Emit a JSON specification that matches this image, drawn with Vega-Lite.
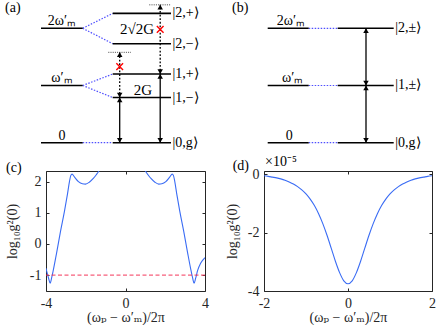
{
  "$schema": "https://vega.github.io/schema/vega-lite/v6.json",
  "padding": {"left": 4, "top": 0, "right": 0, "bottom": 0},
  "background": "white",
  "columns": 2,
  "spacing": {"row": 20, "column": 59},
  "bounds": "flush",
  "align": "each",
  "config": {
    "font": "Liberation Serif, DejaVu Serif, serif",
    "view": {"stroke": null},
    "axis": {"grid": false, "domain": false, "labelFont": "Liberation Serif, DejaVu Serif, serif", "titleFont": "Liberation Serif, DejaVu Serif, serif", "labelFontSize": 14, "titleFontSize": 14, "titleFontWeight": "normal", "labelColor": "#262626", "titleColor": "#262626", "tickColor": "#262626", "tickSize": -3, "labelFlush": false, "labelOverlap": false},
    "axisX": {"labelPadding": 8, "titlePadding": 0},
    "axisY": {"labelPadding": 8, "titlePadding": 5},
    "text": {"font": "Liberation Serif, DejaVu Serif, serif", "fontSize": 13, "color": "#000000"}
  },
  "datasets": {
    "a_levels": [
      {"x1": -0.5, "x2": 3.67, "e": 2}, {"x1": -0.5, "x2": 3.67, "e": 1}, {"x1": -0.5, "x2": 3.67, "e": 0},
      {"x1": 6.67, "x2": 12.5, "e": 2.26}, {"x1": 6.67, "x2": 12.5, "e": 1.73}, {"x1": 6.67, "x2": 12.5, "e": 1.2}, {"x1": 6.67, "x2": 12.5, "e": 0.79}, {"x1": 6.67, "x2": 12.5, "e": 0}
    ],
    "a_links": [
      {"x1": 3.67, "e1": 2, "x2": 6.67, "e2": 2.26}, {"x1": 3.67, "e1": 2, "x2": 6.67, "e2": 1.73},
      {"x1": 3.67, "e1": 1, "x2": 6.67, "e2": 1.2}, {"x1": 3.67, "e1": 1, "x2": 6.67, "e2": 0.79},
      {"x1": 3.67, "e1": 0, "x2": 6.67, "e2": 0}
    ],
    "a_virtual": [{"x1": 10.33, "x2": 12.43, "e": 2.41}, {"x1": 6.23, "x2": 8.5, "e": 1.58}],
    "a_dotted": [{"x": 7.37, "e1": 0.79, "e2": 1.58}, {"x": 11.42, "e1": 1.2, "e2": 2.41}],
    "a_solid": [{"x": 7.37, "e1": 0, "e2": 0.79}, {"x": 11.42, "e1": 0, "e2": 1.2}],
    "a_up": [{"x": 7.37, "e": 1.58}, {"x": 11.42, "e": 2.41}, {"x": 7.37, "e": 0.79}, {"x": 11.42, "e": 1.2}],
    "a_down": [{"x": 7.37, "e": 0.79}, {"x": 11.42, "e": 1.2}, {"x": 7.37, "e": 0}, {"x": 11.42, "e": 0}],
    "a_cross": [{"x": 7.37, "e": 1.33}, {"x": 11.42, "e": 1.98}],
    "a_energy": [{"x": 1.6, "e": 2, "t": "2ω′ₘ"}, {"x": 1.6, "e": 1, "t": "ω′ₘ"}, {"x": 1.6, "e": 0, "t": "0"}],
    "a_mid": [{"x": 9.1, "e": 1.98, "t": "2√2G"}, {"x": 9.7, "e": 0.93, "t": "2G"}],
    "a_states": [
      {"x": 12.65, "e": 2.26, "t": "|2,+⟩"}, {"x": 12.65, "e": 1.73, "t": "|2,−⟩"}, {"x": 12.65, "e": 1.2, "t": "|1,+⟩"},
      {"x": 12.65, "e": 0.79, "t": "|1,−⟩"}, {"x": 12.65, "e": 0, "t": "|0,g⟩"}, {"x": -4.1, "e": 2.36, "t": "(a)"}
    ],
    "b_levels": [
      {"x1": 0.37, "x2": 4.47, "e": 2}, {"x1": 0.37, "x2": 4.47, "e": 1}, {"x1": 0.37, "x2": 4.47, "e": 0},
      {"x1": 7.37, "x2": 12.97, "e": 2}, {"x1": 7.37, "x2": 12.97, "e": 1}, {"x1": 7.37, "x2": 12.97, "e": 0}
    ],
    "b_links": [{"x1": 4.47, "x2": 7.37, "e": 2}, {"x1": 4.47, "x2": 7.37, "e": 1}, {"x1": 4.47, "x2": 7.37, "e": 0}],
    "b_solid": [{"x": 10.2, "e1": 0, "e2": 1}, {"x": 10.2, "e1": 1, "e2": 2}],
    "b_up": [{"x": 10.2, "e": 1}, {"x": 10.2, "e": 2}],
    "b_down": [{"x": 10.2, "e": 0}, {"x": 10.2, "e": 1}],
    "b_energy": [{"x": 2.7, "e": 2, "t": "2ω′ₘ"}, {"x": 2.87, "e": 1, "t": "ω′ₘ"}, {"x": 2.53, "e": 0, "t": "0"}],
    "b_states": [{"x": 13.13, "e": 2, "t": "|2,±⟩"}, {"x": 13.13, "e": 1, "t": "|1,±⟩"}, {"x": 13.13, "e": 0, "t": "|0,g⟩"}, {"x": -3.2, "e": 2.36, "t": "(b)"}],
    "c_curve": [
      {"x": -4.0, "y": -0.78}, {"x": -3.87, "y": -1.1}, {"x": -3.79, "y": -1.26}, {"x": -3.72, "y": -1.1}, {"x": -3.62, "y": -0.8},
      {"x": -3.47, "y": -0.3}, {"x": -3.27, "y": 0.4}, {"x": -3.07, "y": 1.05}, {"x": -2.92, "y": 1.6}, {"x": -2.82, "y": 2.0},
      {"x": -2.75, "y": 2.2}, {"x": -2.69, "y": 2.24}, {"x": -2.57, "y": 2.15}, {"x": -2.37, "y": 2.0}, {"x": -2.17, "y": 1.93},
      {"x": -2.01, "y": 1.92}, {"x": -1.82, "y": 1.98}, {"x": -1.62, "y": 2.1}, {"x": -1.47, "y": 2.22}, {"x": -1.34, "y": 2.34},
      {"x": -1.17, "y": 2.55}, {"x": -0.87, "y": 2.9}, {"x": -0.57, "y": 3.2}, {"x": -0.17, "y": 3.4}, {"x": 0.23, "y": 3.2},
      {"x": 0.53, "y": 2.9}, {"x": 0.83, "y": 2.55}, {"x": 1.0, "y": 2.34}, {"x": 1.13, "y": 2.22}, {"x": 1.28, "y": 2.1},
      {"x": 1.48, "y": 1.98}, {"x": 1.67, "y": 1.92}, {"x": 1.83, "y": 1.93}, {"x": 2.03, "y": 2.0}, {"x": 2.23, "y": 2.15},
      {"x": 2.35, "y": 2.24}, {"x": 2.41, "y": 2.2}, {"x": 2.48, "y": 2.0}, {"x": 2.58, "y": 1.6}, {"x": 2.73, "y": 1.05},
      {"x": 2.93, "y": 0.4}, {"x": 3.13, "y": -0.3}, {"x": 3.28, "y": -0.8}, {"x": 3.38, "y": -1.1}, {"x": 3.45, "y": -1.26},
      {"x": 3.53, "y": -1.1}, {"x": 3.63, "y": -0.85}, {"x": 3.78, "y": -0.62}, {"x": 4.0, "y": -0.44}
    ],
    "d_curve": [
      {"x": -2.0, "y": -0.05}, {"x": -1.9, "y": -0.07}, {"x": -1.8, "y": -0.095}, {"x": -1.7, "y": -0.12}, {"x": -1.6, "y": -0.155},
      {"x": -1.5, "y": -0.2}, {"x": -1.4, "y": -0.26}, {"x": -1.3, "y": -0.33}, {"x": -1.2, "y": -0.42}, {"x": -1.1, "y": -0.53},
      {"x": -1.0, "y": -0.67}, {"x": -0.9, "y": -0.85}, {"x": -0.8, "y": -1.07}, {"x": -0.7, "y": -1.35}, {"x": -0.6, "y": -1.69},
      {"x": -0.5, "y": -2.09}, {"x": -0.4, "y": -2.53}, {"x": -0.3, "y": -2.98}, {"x": -0.2, "y": -3.37}, {"x": -0.1, "y": -3.65},
      {"x": 0.0, "y": -3.75}, {"x": 0.1, "y": -3.65}, {"x": 0.2, "y": -3.37}, {"x": 0.3, "y": -2.98}, {"x": 0.4, "y": -2.53},
      {"x": 0.5, "y": -2.09}, {"x": 0.6, "y": -1.69}, {"x": 0.7, "y": -1.35}, {"x": 0.8, "y": -1.07}, {"x": 0.9, "y": -0.85},
      {"x": 1.0, "y": -0.67}, {"x": 1.1, "y": -0.53}, {"x": 1.2, "y": -0.42}, {"x": 1.3, "y": -0.33}, {"x": 1.4, "y": -0.26},
      {"x": 1.5, "y": -0.2}, {"x": 1.6, "y": -0.155}, {"x": 1.7, "y": -0.12}, {"x": 1.8, "y": -0.095}, {"x": 1.9, "y": -0.07},
      {"x": 2.0, "y": -0.05}
    ]
  },
  "concat": [
    {
      "width": 159, "height": 150,
      "layer": [
        {"data": {"name": "a_links"}, "mark": {"type": "rule", "color": "#4f4fff", "strokeWidth": 1.2, "strokeDash": [1.5, 1.5]},
         "encoding": {"x": {"field": "x1", "type": "quantitative", "scale": {"domain": [0, 15.9], "nice": false, "zero": false}, "axis": null}, "x2": {"field": "x2"},
                      "y": {"field": "e1", "type": "quantitative", "scale": {"domain": [-0.145, 2.477], "nice": false, "zero": false}, "axis": null}, "y2": {"field": "e2"}}},
        {"data": {"name": "a_levels"}, "mark": {"type": "rule", "color": "#000000", "strokeWidth": 1.6},
         "encoding": {"x": {"field": "x1", "type": "quantitative", "scale": {"domain": [0, 15.9], "nice": false, "zero": false}, "axis": null}, "x2": {"field": "x2"},
                      "y": {"field": "e", "type": "quantitative", "scale": {"domain": [-0.145, 2.477], "nice": false, "zero": false}, "axis": null}}},
        {"data": {"name": "a_virtual"}, "mark": {"type": "rule", "color": "#444444", "strokeWidth": 1, "strokeDash": [1, 1.2]},
         "encoding": {"x": {"field": "x1", "type": "quantitative", "scale": {"domain": [0, 15.9], "nice": false, "zero": false}, "axis": null}, "x2": {"field": "x2"},
                      "y": {"field": "e", "type": "quantitative", "scale": {"domain": [-0.145, 2.477], "nice": false, "zero": false}, "axis": null}}},
        {"data": {"name": "a_dotted"}, "mark": {"type": "rule", "color": "#000000", "strokeWidth": 1.3, "strokeDash": [1.8, 1.8]},
         "encoding": {"x": {"field": "x", "type": "quantitative", "scale": {"domain": [0, 15.9], "nice": false, "zero": false}, "axis": null},
                      "y": {"field": "e1", "type": "quantitative", "scale": {"domain": [-0.145, 2.477], "nice": false, "zero": false}, "axis": null}, "y2": {"field": "e2"}}},
        {"data": {"name": "a_solid"}, "mark": {"type": "rule", "color": "#000000", "strokeWidth": 1.3},
         "encoding": {"x": {"field": "x", "type": "quantitative", "scale": {"domain": [0, 15.9], "nice": false, "zero": false}, "axis": null},
                      "y": {"field": "e1", "type": "quantitative", "scale": {"domain": [-0.145, 2.477], "nice": false, "zero": false}, "axis": null}, "y2": {"field": "e2"}}},
        {"data": {"name": "a_up"}, "mark": {"type": "point", "shape": "triangle-up", "filled": true, "color": "#000000", "opacity": 1, "size": 30, "yOffset": 2.4},
         "encoding": {"x": {"field": "x", "type": "quantitative", "scale": {"domain": [0, 15.9], "nice": false, "zero": false}, "axis": null},
                      "y": {"field": "e", "type": "quantitative", "scale": {"domain": [-0.145, 2.477], "nice": false, "zero": false}, "axis": null}}},
        {"data": {"name": "a_down"}, "mark": {"type": "point", "shape": "triangle-down", "filled": true, "color": "#000000", "opacity": 1, "size": 30, "yOffset": -2.4},
         "encoding": {"x": {"field": "x", "type": "quantitative", "scale": {"domain": [0, 15.9], "nice": false, "zero": false}, "axis": null},
                      "y": {"field": "e", "type": "quantitative", "scale": {"domain": [-0.145, 2.477], "nice": false, "zero": false}, "axis": null}}},
        {"data": {"name": "a_cross"}, "mark": {"type": "point", "shape": "M-1,-1L1,1M-1,1L1,-1", "filled": false, "stroke": "#ff0000", "strokeWidth": 1.4, "opacity": 1, "size": 45},
         "encoding": {"x": {"field": "x", "type": "quantitative", "scale": {"domain": [0, 15.9], "nice": false, "zero": false}, "axis": null},
                      "y": {"field": "e", "type": "quantitative", "scale": {"domain": [-0.145, 2.477], "nice": false, "zero": false}, "axis": null}}},
        {"data": {"name": "a_energy"}, "mark": {"type": "text", "font": "Liberation Serif", "align": "center", "baseline": "alphabetic", "dy": -3, "fontSize": 14},
         "encoding": {"x": {"field": "x", "type": "quantitative", "scale": {"domain": [0, 15.9], "nice": false, "zero": false}, "axis": null},
                      "y": {"field": "e", "type": "quantitative", "scale": {"domain": [-0.145, 2.477], "nice": false, "zero": false}, "axis": null}, "text": {"field": "t"}}},
        {"data": {"name": "a_mid"}, "mark": {"type": "text", "font": "Liberation Serif", "align": "center", "baseline": "middle", "fontSize": 15},
         "encoding": {"x": {"field": "x", "type": "quantitative", "scale": {"domain": [0, 15.9], "nice": false, "zero": false}, "axis": null},
                      "y": {"field": "e", "type": "quantitative", "scale": {"domain": [-0.145, 2.477], "nice": false, "zero": false}, "axis": null}, "text": {"field": "t"}}},
        {"data": {"name": "a_states"}, "mark": {"type": "text", "font": "Liberation Serif", "align": "left", "baseline": "middle", "fontSize": 14},
         "encoding": {"x": {"field": "x", "type": "quantitative", "scale": {"domain": [0, 15.9], "nice": false, "zero": false}, "axis": null},
                      "y": {"field": "e", "type": "quantitative", "scale": {"domain": [-0.145, 2.477], "nice": false, "zero": false}, "axis": null}, "text": {"field": "t"}}}
      ]
    },
    {
      "width": 168, "height": 150,
      "layer": [
        {"data": {"name": "b_links"}, "mark": {"type": "rule", "color": "#4f4fff", "strokeWidth": 1.2, "strokeDash": [1.5, 1.5]},
         "encoding": {"x": {"field": "x1", "type": "quantitative", "scale": {"domain": [0, 16.8], "nice": false, "zero": false}, "axis": null}, "x2": {"field": "x2"},
                      "y": {"field": "e", "type": "quantitative", "scale": {"domain": [-0.145, 2.477], "nice": false, "zero": false}, "axis": null}}},
        {"data": {"name": "b_levels"}, "mark": {"type": "rule", "color": "#000000", "strokeWidth": 1.6},
         "encoding": {"x": {"field": "x1", "type": "quantitative", "scale": {"domain": [0, 16.8], "nice": false, "zero": false}, "axis": null}, "x2": {"field": "x2"},
                      "y": {"field": "e", "type": "quantitative", "scale": {"domain": [-0.145, 2.477], "nice": false, "zero": false}, "axis": null}}},
        {"data": {"name": "b_solid"}, "mark": {"type": "rule", "color": "#000000", "strokeWidth": 1.3},
         "encoding": {"x": {"field": "x", "type": "quantitative", "scale": {"domain": [0, 16.8], "nice": false, "zero": false}, "axis": null},
                      "y": {"field": "e1", "type": "quantitative", "scale": {"domain": [-0.145, 2.477], "nice": false, "zero": false}, "axis": null}, "y2": {"field": "e2"}}},
        {"data": {"name": "b_up"}, "mark": {"type": "point", "shape": "triangle-up", "filled": true, "color": "#000000", "opacity": 1, "size": 30, "yOffset": 2.4},
         "encoding": {"x": {"field": "x", "type": "quantitative", "scale": {"domain": [0, 16.8], "nice": false, "zero": false}, "axis": null},
                      "y": {"field": "e", "type": "quantitative", "scale": {"domain": [-0.145, 2.477], "nice": false, "zero": false}, "axis": null}}},
        {"data": {"name": "b_down"}, "mark": {"type": "point", "shape": "triangle-down", "filled": true, "color": "#000000", "opacity": 1, "size": 30, "yOffset": -2.4},
         "encoding": {"x": {"field": "x", "type": "quantitative", "scale": {"domain": [0, 16.8], "nice": false, "zero": false}, "axis": null},
                      "y": {"field": "e", "type": "quantitative", "scale": {"domain": [-0.145, 2.477], "nice": false, "zero": false}, "axis": null}}},
        {"data": {"name": "b_energy"}, "mark": {"type": "text", "font": "Liberation Serif", "align": "center", "baseline": "alphabetic", "dy": -3, "fontSize": 14},
         "encoding": {"x": {"field": "x", "type": "quantitative", "scale": {"domain": [0, 16.8], "nice": false, "zero": false}, "axis": null},
                      "y": {"field": "e", "type": "quantitative", "scale": {"domain": [-0.145, 2.477], "nice": false, "zero": false}, "axis": null}, "text": {"field": "t"}}},
        {"data": {"name": "b_states"}, "mark": {"type": "text", "font": "Liberation Serif", "align": "left", "baseline": "middle", "fontSize": 14},
         "encoding": {"x": {"field": "x", "type": "quantitative", "scale": {"domain": [0, 16.8], "nice": false, "zero": false}, "axis": null},
                      "y": {"field": "e", "type": "quantitative", "scale": {"domain": [-0.145, 2.477], "nice": false, "zero": false}, "axis": null}, "text": {"field": "t"}}}
      ]
    },
    {
      "width": 159, "height": 120,
      "view": {"stroke": "#262626", "strokeWidth": 1},
      "layer": [
        {"data": {"name": "c_curve"}, "mark": {"type": "line", "color": "#3a6cf4", "strokeWidth": 1.1, "clip": true, "interpolate": "monotone"},
         "encoding": {
           "x": {"field": "x", "type": "quantitative", "scale": {"domain": [-4, 4], "nice": false, "zero": false},
                 "axis": {"orient": "bottom", "values": [-4, 0, 4], "title": "(ωₚ − ω′ₘ)/2π", "labelExpr": "datum.value < 0 ? '-' + abs(datum.value) : '' + datum.value"}},
           "y": {"field": "y", "type": "quantitative", "scale": {"domain": [-1.51, 2.34], "nice": false, "zero": false},
                 "axis": {"orient": "left", "values": [-1, 0, 1, 2], "title": "log₁₀g²(0)", "titlePadding": 10, "labelExpr": "datum.value < 0 ? '-' + abs(datum.value) : '' + datum.value"}}}},
        {"data": {"values": [{"y": -1}]}, "mark": {"type": "rule", "color": "#f4365a", "strokeWidth": 1, "strokeDash": [4, 2.5]},
         "encoding": {"y": {"field": "y", "type": "quantitative", "scale": {"domain": [-1.51, 2.34], "nice": false, "zero": false}, "axis": null}}},
        {"data": {"values": [{"x": -6.01, "y": 2.45, "t": "(c)"}]}, "mark": {"type": "text", "font": "Liberation Serif", "align": "left", "baseline": "middle", "fontSize": 14},
         "encoding": {
           "x": {"field": "x", "type": "quantitative", "scale": {"domain": [-4, 4], "nice": false, "zero": false},
                 "axis": {"orient": "top", "values": [-4, 0, 4], "labels": false, "title": null}},
           "y": {"field": "y", "type": "quantitative", "scale": {"domain": [-1.51, 2.34], "nice": false, "zero": false},
                 "axis": {"orient": "right", "values": [-1, 0, 1, 2], "labels": false, "title": null}},
           "text": {"field": "t"}}}
      ]
    },
    {
      "width": 168, "height": 120,
      "view": {"stroke": "#262626", "strokeWidth": 1},
      "layer": [
        {"data": {"name": "d_curve"}, "mark": {"type": "line", "color": "#3a6cf4", "strokeWidth": 1.1, "clip": true, "interpolate": "monotone"},
         "encoding": {
           "x": {"field": "x", "type": "quantitative", "scale": {"domain": [-2, 2], "nice": false, "zero": false},
                 "axis": {"orient": "bottom", "values": [-2, 0, 2], "title": "(ωₚ − ω′ₘ)/2π", "labelExpr": "datum.value < 0 ? '-' + abs(datum.value) : '' + datum.value"}},
           "y": {"field": "y", "type": "quantitative", "scale": {"domain": [-4, 0.115], "nice": false, "zero": false},
                 "axis": {"orient": "left", "values": [-4, -2, 0], "title": "log₁₀g²(0)", "titlePadding": 8, "labelExpr": "datum.value < 0 ? '-' + abs(datum.value) : '' + datum.value"}}}},
        {"data": {"values": [{"x": -2.745, "y": 0.297, "t": "(d)"}]}, "mark": {"type": "text", "font": "Liberation Serif", "align": "left", "baseline": "middle", "fontSize": 14},
         "encoding": {
           "x": {"field": "x", "type": "quantitative", "scale": {"domain": [-2, 2], "nice": false, "zero": false},
                 "axis": {"orient": "top", "values": [-2, 0, 2], "labels": false, "title": null}},
           "y": {"field": "y", "type": "quantitative", "scale": {"domain": [-4, 0.115], "nice": false, "zero": false},
                 "axis": {"orient": "right", "values": [-4, -2, 0], "labels": false, "title": null}},
           "text": {"field": "t"}}},
        {"data": {"values": [{"x": -1.976, "y": 0.286, "t": "×10⁻⁵"}]}, "mark": {"type": "text", "font": "Liberation Serif", "align": "left", "baseline": "alphabetic", "fontSize": 14},
         "encoding": {
           "x": {"field": "x", "type": "quantitative", "scale": {"domain": [-2, 2], "nice": false, "zero": false}, "axis": null},
           "y": {"field": "y", "type": "quantitative", "scale": {"domain": [-4, 0.115], "nice": false, "zero": false}, "axis": null},
           "text": {"field": "t"}}}
      ]
    }
  ]
}
